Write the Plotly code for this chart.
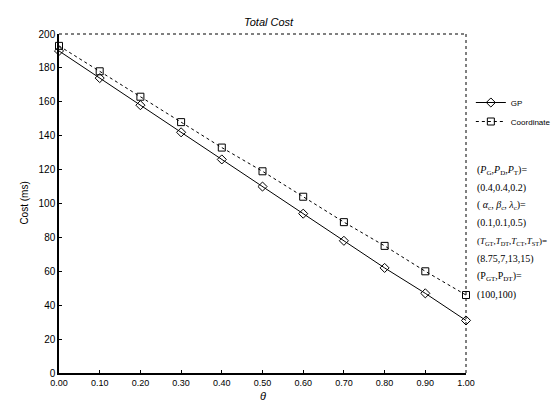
import plotly.graph_objects as go

theta = [0.0, 0.1, 0.2, 0.3, 0.4, 0.5, 0.6, 0.7, 0.8, 0.9, 1.0]
gp_cost = [190, 174, 158, 142, 126, 110, 94, 78, 62, 47, 31]
coord_cost = [193, 178, 163, 148, 133, 119, 104, 89, 75, 60, 46]
x_ticks = [0.0, 0.1, 0.2, 0.3, 0.4, 0.5, 0.6, 0.7, 0.8, 0.9, 1.0]
x_tick_labels = ["0.00", "0.10", "0.20", "0.30", "0.40", "0.50", "0.60", "0.70", "0.80", "0.90", "1.00"]
y_ticks = [0, 20, 40, 60, 80, 100, 120, 140, 160, 180, 200]
param_lines = [
    "(<i>P</i><sub>G</sub>,<i>P</i><sub>D</sub>,<i>P</i><sub>T</sub>)=",
    "(0.4,0.4,0.2)",
    "( <i>α</i><sub>c</sub>, <i>β</i><sub>c</sub>, <i>λ</i><sub>c</sub>)=",
    "(0.1,0.1,0.5)",
    "(<i>T</i><sub>GT</sub>,<i>T</i><sub>DT</sub>,<i>T</i><sub>CT</sub>,<i>T</i><sub>ST</sub>)=",
    "(8.75,7,13,15)",
    "(P<sub>GT</sub>,P<sub>DT</sub>)=",
    "(100,100)",
]
param_sizes = [10, 10, 10, 10, 9, 10, 10, 10]

W, H = 560, 403
L, R, T, B = 51, 89, 26, 38
pw, ph = W - L - R, H - T - B

def px_x(x):
    return (x - L) / pw

def px_y(y):
    return (H - B - y) / ph

sans = "Liberation Sans, Arial, sans-serif"
serif = "Liberation Serif, Times New Roman, serif"

fig = go.Figure()
fig.add_trace(go.Scatter(
    x=theta, y=gp_cost, name="GP", mode="lines+markers",
    line=dict(color="black", width=1),
    marker=dict(symbol="diamond-open", size=7, color="black", line=dict(width=1)),
    cliponaxis=False,
))
fig.add_trace(go.Scatter(
    x=theta, y=coord_cost, name="Coordinate", mode="lines+markers",
    line=dict(color="black", width=1, dash="dot"),
    marker=dict(symbol="square-open", size=7, color="black", line=dict(width=1)),
    cliponaxis=False,
))

annotations = []
for i, txt in enumerate(param_lines):
    annotations.append(dict(
        text=txt, xref="paper", yref="paper", x=px_x(480), y=px_y(162 + i * 17.8),
        xanchor="left", yanchor="middle", showarrow=False,
        font=dict(family=serif, size=param_sizes[i], color="black"),
    ))
annotations.append(dict(
    text="Cost (ms)", xref="paper", yref="paper", x=px_x(15), y=0.5,
    xanchor="center", yanchor="middle", textangle=-90, showarrow=False,
    font=dict(family=sans, size=10, color="black"),
))
annotations.append(dict(
    text="<i>θ</i>", xref="paper", yref="paper", x=0.5, y=px_y(388),
    xanchor="center", yanchor="middle", showarrow=False, borderpad=0,
    font=dict(family=sans, size=11, color="black"),
))
annotations.append(dict(
    text="<i>Total Cost</i>", xref="paper", yref="paper", x=px_x(268), y=px_y(14),
    xanchor="center", yanchor="middle", showarrow=False,
    font=dict(family=sans, size=11, color="black"),
))

shapes = [
    dict(type="line", xref="paper", yref="paper", x0=0, x1=1, y0=1, y1=1,
         line=dict(color="black", width=1, dash="dot")),
    dict(type="line", xref="paper", yref="paper", x0=1, x1=1, y0=0, y1=1,
         line=dict(color="black", width=1, dash="dot")),
]

fig.update_layout(
    width=W, height=H,
    margin=dict(l=L, r=R, t=T, b=B, pad=0),
    paper_bgcolor="white", plot_bgcolor="white",
    showlegend=True,
    legend=dict(x=px_x(476), y=px_y(80), xanchor="left", yanchor="top",
                font=dict(family=sans, size=8, color="black"),
                bgcolor="rgba(0,0,0,0)", itemwidth=30),
    xaxis=dict(range=[0, 1], tickvals=x_ticks, ticktext=x_tick_labels,
               showgrid=False, zeroline=False, showline=True, linecolor="black", linewidth=1.5,
               ticks="inside", ticklen=3, tickcolor="black",
               tickfont=dict(family=sans, size=9, color="black"), tickprefix="<i>", ticksuffix="</i>"),
    yaxis=dict(range=[0, 200], tickvals=y_ticks,
               showgrid=False, zeroline=False, showline=True, linecolor="black", linewidth=1.5,
               ticks="inside", ticklen=3, tickcolor="black",
               tickfont=dict(family=sans, size=10, color="black")),
    annotations=annotations,
    shapes=shapes,
)

fig.write_html("out.html")
